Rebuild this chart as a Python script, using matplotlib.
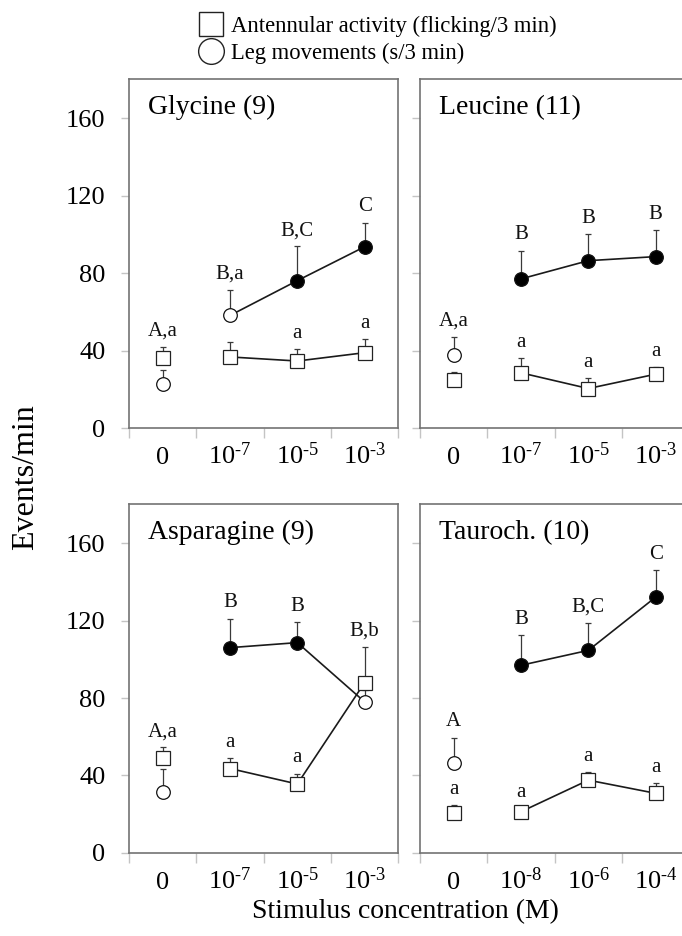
import numpy as np
import matplotlib
matplotlib.use("Agg")
import matplotlib.pyplot as plt
from matplotlib.lines import Line2D

plt.rcParams['font.family'] = ['Liberation Serif', 'DejaVu Serif']
plt.rcParams['mathtext.fontset'] = 'custom'
plt.rcParams['mathtext.rm'] = 'Liberation Serif'

# concentration axis: 0 = control, otherwise exponent of 10 (M)
conc_glycine = ['0', '-7', '-5', '-3']
conc_leucine = ['0', '-7', '-5', '-3']
conc_asparagine = ['0', '-7', '-5', '-3']
conc_tauroch = ['0', '-8', '-6', '-4']

# antennular flicking (mean, +SE) and leg movements (mean, +SE), events/min
ant_glycine = [36.2, 36.7, 34.6, 38.9]
ant_err_glycine = [5.6, 7.7, 6.0, 6.9]
leg_glycine = [22.5, 58.1, 76.1, 93.6]
leg_err_glycine = [7.7, 13.4, 17.7, 12.5]
leg_sig_glycine = [False, False, True, True]

ant_leucine = [24.7, 28.5, 20.4, 27.8]
ant_err_leucine = [4.3, 7.7, 5.2, 3.7]
leg_leucine = [37.5, 77.0, 86.4, 88.5]
leg_err_leucine = [9.5, 14.6, 13.7, 13.7]
leg_sig_leucine = [False, True, True, True]

ant_asparagine = [49.1, 43.6, 35.6, 88.0]
ant_err_asparagine = [5.4, 5.2, 5.4, 18.3]
leg_asparagine = [31.6, 106.0, 108.6, 78.0]
leg_err_asparagine = [12.0, 15.0, 10.6, 6.0]
leg_sig_asparagine = [False, True, True, False]

ant_tauroch = [20.5, 21.3, 37.6, 30.8]
ant_err_tauroch = [4.2, 2.0, 4.3, 5.4]
leg_tauroch = [46.2, 96.9, 104.6, 132.1]
leg_err_tauroch = [13.4, 15.8, 14.1, 13.8]
leg_sig_tauroch = [False, True, True, True]

# significance letters: (concentration index, series they sit over, text)
let_glycine = [(0, 'ant', 'A,a'), (1, 'leg', 'B,a'), (2, 'leg', 'B,C'), (2, 'ant', 'a'),
               (3, 'leg', 'C'), (3, 'ant', 'a')]
let_leucine = [(0, 'leg', 'A,a'), (1, 'leg', 'B'), (1, 'ant', 'a'), (2, 'leg', 'B'),
               (2, 'ant', 'a'), (3, 'leg', 'B'), (3, 'ant', 'a')]
let_asparagine = [(0, 'ant', 'A,a'), (1, 'leg', 'B'), (1, 'ant', 'a'), (2, 'leg', 'B'),
                  (2, 'ant', 'a'), (3, 'ant', 'B,b')]
let_tauroch = [(0, 'leg', 'A'), (0, 'ant', 'a'), (1, 'leg', 'B'), (1, 'ant', 'a'),
               (2, 'leg', 'B,C'), (2, 'ant', 'a'), (3, 'leg', 'C'), (3, 'ant', 'a')]

panels = [
    ('Glycine (9)', conc_glycine, ant_glycine, ant_err_glycine, leg_glycine,
     leg_err_glycine, leg_sig_glycine, let_glycine),
    ('Leucine (11)', conc_leucine, ant_leucine, ant_err_leucine, leg_leucine,
     leg_err_leucine, leg_sig_leucine, let_leucine),
    ('Asparagine (9)', conc_asparagine, ant_asparagine, ant_err_asparagine, leg_asparagine,
     leg_err_asparagine, leg_sig_asparagine, let_asparagine),
    ('Tauroch. (10)', conc_tauroch, ant_tauroch, ant_err_tauroch, leg_tauroch,
     leg_err_tauroch, leg_sig_tauroch, let_tauroch),
]


def conc_label(c):
    if c == '0':
        return '0'
    # short hyphen in the exponent instead of a math minus
    return '$\\mathregular{10^{\u2010' + c.lstrip('-') + '}}$'


fig = plt.figure(figsize=(6.82, 9.36), dpi=100)

lefts = [0.1891, 0.6158]
bottoms = [0.5427, 0.0887]
w_ax, h_ax = 0.3950, 0.3725

spine_col = '#737373'
tick_col = '#c4c4c4'

for k, (title, conc, ant, ant_err, leg, leg_err, leg_sig, letters) in enumerate(panels):
    row, col = divmod(k, 2)
    ax = fig.add_axes([lefts[col], bottoms[row], w_ax, h_ax])
    x = np.arange(4) + 0.5
    ant = np.array(ant)
    leg = np.array(leg)
    ant_err = np.array(ant_err)
    leg_err = np.array(leg_err)

    # upper-only error bars
    ax.errorbar(x, ant, yerr=[np.zeros(4), ant_err], fmt='none', ecolor='#3a3a3a',
                elinewidth=0.9, capsize=2.5, capthick=0.9, zorder=1)
    ax.errorbar(x, leg, yerr=[np.zeros(4), leg_err], fmt='none', ecolor='#3a3a3a',
                elinewidth=0.9, capsize=2.5, capthick=0.9, zorder=1)

    # connecting lines only across stimulus concentrations
    ax.plot(x[1:], ant[1:], color='#1a1a1a', lw=1.2, zorder=2)
    ax.plot(x[1:], leg[1:], color='#1a1a1a', lw=1.2, zorder=2)

    ax.plot(x, ant, ls='none', marker='s', ms=9.5, mfc='white', mec='#222222',
            mew=0.9, zorder=3)
    for xi, yi, sig in zip(x, leg, leg_sig):
        ax.plot(xi, yi, ls='none', marker='o', ms=9.8,
                mfc='black' if sig else 'white', mec='#111111', mew=0.9, zorder=3)

    for i, series, txt in letters:
        top = ant[i] + ant_err[i] if series == 'ant' else leg[i] + leg_err[i]
        ax.annotate(txt, xy=(x[i], top), xytext=(0, 8), textcoords='offset points',
                    ha='center', va='baseline', fontsize=15, color='#111111')

    ax.annotate(title, xy=(0, 1), xycoords='axes fraction', xytext=(14, -25),
                textcoords='offset points', ha='left', va='baseline', fontsize=20)

    ax.set_xlim(0, 4)
    ax.set_ylim(0, 180)
    ax.set_xticks([0, 1, 2, 3, 4])
    ax.set_xticklabels([])
    ax.set_xticks(x, minor=True)
    ax.set_xticklabels([conc_label(c) for c in conc], minor=True, fontsize=19)
    for lab in ax.get_xticklabels(minor=True):
        lab.set_verticalalignment('baseline')
    ax.tick_params(axis='x', which='major', direction='out', length=7, width=1,
                   color=tick_col)
    ax.tick_params(axis='x', which='minor', length=0, pad=26)
    ax.set_yticks([0, 40, 80, 120, 160])
    ax.tick_params(axis='y', direction='out', length=6, width=1, color=tick_col,
                   pad=11, labelsize=19)
    if col == 1:
        ax.set_yticklabels([])
    for s in ax.spines.values():
        s.set_color(spine_col)
        s.set_linewidth(1.2)

fig.text(0.037, 0.49, 'Events/min', rotation=90, ha='center', va='center', fontsize=23)
fig.text(0.594, 0.026, 'Stimulus concentration (M)', ha='center', va='center', fontsize=20)

handles = [
    Line2D([], [], ls='none', marker='s', ms=17, mfc='white', mec='#222222', mew=1.0),
    Line2D([], [], ls='none', marker='o', ms=18.5, mfc='white', mec='#222222', mew=1.0),
]
fig.legend(handles, ['Antennular activity (flicking/3 min)', 'Leg movements (s/3 min)'],
           loc='upper left', bbox_to_anchor=(0.27, 1.0), frameon=False, fontsize=16.3,
           handlelength=1.0, handletextpad=0.35, labelspacing=0.27, borderpad=0.2)

fig.savefig('out.png', dpi=100)
